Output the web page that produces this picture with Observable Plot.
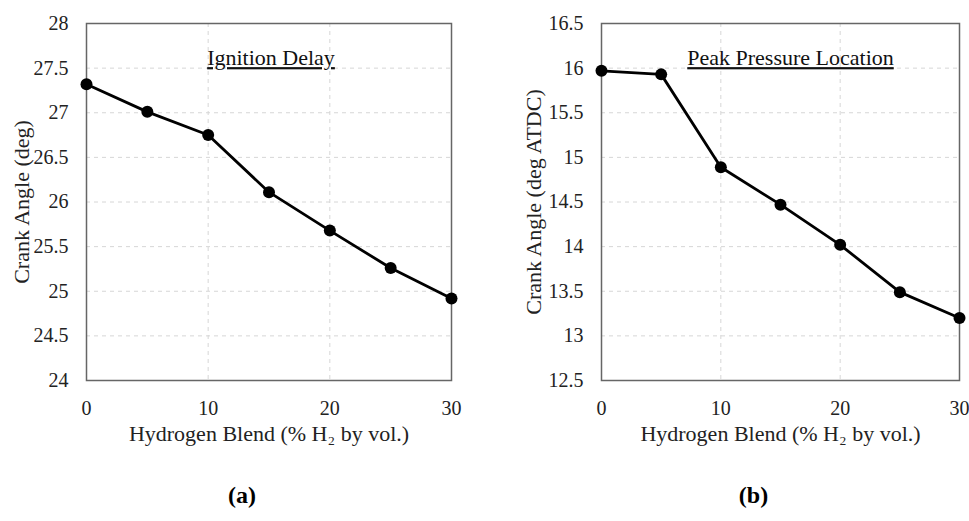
<!DOCTYPE html>
<html>
<head>
<meta charset="utf-8">
<script src="https://cdn.jsdelivr.net/npm/d3@7"></script>
<script src="https://cdn.jsdelivr.net/npm/@observablehq/plot@0.6"></script>
<style>
  html, body { margin: 0; padding: 0; background: #fff; }
  #wrap { position: relative; width: 969px; height: 521px; overflow: hidden; background: #fff; }
  #wrap svg { position: absolute; top: 0; }
  #wrap svg, #wrap svg text { font-family: "Liberation Serif", "Times New Roman", serif !important; }
  g[aria-label="x-axis label"], g[aria-label="y-axis label"] { font-size: 22px; }
</style>
</head>
<body>
<div id="wrap"></div>
<script>
// Data
const hydrogen = [0, 5, 10, 15, 20, 25, 30];
const ignitionDelay = [27.32, 27.01, 26.75, 26.11, 25.68, 25.26, 24.92];
const peakPressureLocation = [15.97, 15.93, 14.89, 14.47, 14.02, 13.49, 13.20];

const xTicks = [0, 10, 20, 30];
const yTicksA = [24, 24.5, 25, 25.5, 26, 26.5, 27, 27.5, 28];
const yTicksB = [12.5, 13, 13.5, 14, 14.5, 15, 15.5, 16, 16.5];

const xLabel = "Hydrogen Blend (% H\u2082 by vol.)";

function panel({values, yDomain, yTicks, yLabel, title, tag, width, margins, titleDx, tagDx, yLabelOffset}) {
  const data = hydrogen.map((h, i) => ({h, v: values[i]}));
  const svg = Plot.plot({
    width,
    height: 521,
    marginLeft: margins[0],
    marginRight: margins[1],
    marginTop: 23,
    marginBottom: 141,
    style: {fontFamily: "'Liberation Serif', 'Times New Roman', serif", fontSize: "20px", color: "#222", background: "transparent"},
    x: {domain: [0, 30], ticks: xTicks, tickSize: 0, tickPadding: 20, label: xLabel, labelArrow: false, labelAnchor: "center", labelOffset: 60},
    y: {domain: yDomain, ticks: yTicks, tickSize: 0, tickPadding: 18, tickFormat: d => `${d}`, label: yLabel, labelArrow: false, labelAnchor: "center", labelOffset: yLabelOffset},
    marks: [
      Plot.gridX(xTicks, {stroke: "#d6d6d6", strokeOpacity: 1, strokeDasharray: "4,4"}),
      Plot.gridY(yTicks, {stroke: "#d6d6d6", strokeOpacity: 1, strokeDasharray: "4,4"}),
      Plot.frame({stroke: "#666", strokeWidth: 1.5}),
      Plot.line(data, {x: "h", y: "v", stroke: "#000", strokeWidth: 2.8}),
      Plot.dot(data, {x: "h", y: "v", r: 6, fill: "#000", stroke: "none"}),
      Plot.text([title], {frameAnchor: "top", dy: 26, dx: titleDx, fontSize: 22, fill: "#111"}),
      Plot.text([tag], {frameAnchor: "bottom", dy: 122, dx: tagDx, fontSize: 24, fontWeight: "bold", fill: "#000"})
    ]
  });
  // underline the panel title
  svg.querySelectorAll("text").forEach(t => {
    if (t.textContent === title) t.style.textDecoration = "underline";
  });
  return svg;
}

const wrap = document.getElementById("wrap");
const a = panel({
  values: ignitionDelay, yDomain: [24, 28], yTicks: yTicksA,
  yLabel: "Crank Angle (deg)", title: "Ignition Delay", tag: "(a)",
  width: 480, margins: [86, 29], titleDx: 2, tagDx: -27, yLabelOffset: 73
});
a.style.left = "0px";
wrap.appendChild(a);

const b = panel({
  values: peakPressureLocation, yDomain: [12.5, 16.5], yTicks: yTicksB,
  yLabel: "Crank Angle (deg ATDC)", title: "Peak Pressure Location", tag: "(b)",
  width: 489, margins: [121, 10], titleDx: 10, tagDx: -27, yLabelOffset: 76
});
b.style.left = "480px";
wrap.appendChild(b);
</script>
</body>
</html>
